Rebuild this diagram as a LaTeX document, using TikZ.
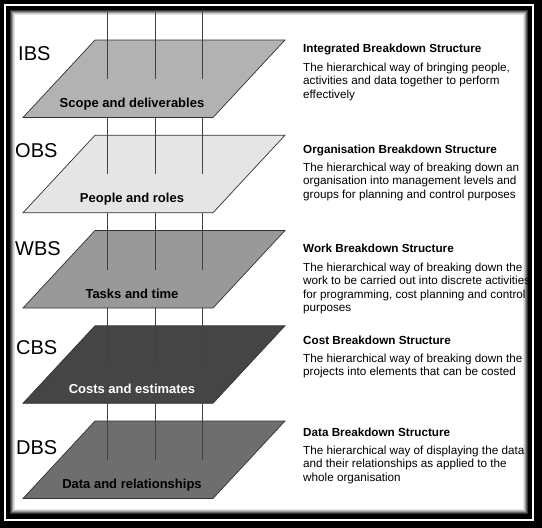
\documentclass[tikz,border=0pt]{standalone}
\usepackage{fontspec}
\setmainfont{Liberation Sans}
\definecolor{ibs}{gray}{0.70}
\definecolor{obs}{gray}{0.90}
\definecolor{wbs}{gray}{0.60}
\definecolor{cbs}{gray}{0.27}
\definecolor{dbs}{gray}{0.43}
\begin{document}
\begin{tikzpicture}[x=1pt,y=-1pt,
  plane/.style={draw=black!80, line width=0.7pt},
  pole/.style={draw=black!75, line width=0.8pt},
  abbr/.style={anchor=base west, inner sep=0pt, font=\fontsize{20}{24}\selectfont},
  planelabel/.style={anchor=base, inner sep=0pt, font=\fontsize{13}{15}\selectfont\bfseries},
  title/.style={anchor=base west, inner sep=0pt, font=\fontsize{11.7}{13.5}\selectfont\bfseries},
  desc/.style={anchor=base west, inner sep=0pt, font=\fontsize{11.7}{13.5}\selectfont}]
\useasboundingbox (0,0) rectangle (542,528);
% frame
\fill[black] (0,0) rectangle (542,528);
\draw[white, line width=1.3pt] (5,5) rectangle (533,520);
\foreach \k/\c in {0/0,1/20,2/40,3/60,4/78,5/90,6/100}
  {\fill[white!\c!black] (9+\k,9+\k) rectangle (529-\k,515-\k);}
% planes
\foreach \i/\col/\tc/\lab/\ab/\abx/\aby in {
  0/ibs/black/Scope and deliverables/IBS/18/60,
  1/obs/black/People and roles/OBS/15/157,
  2/wbs/black/Tasks and time/WBS/15/255,
  3/cbs/white/Costs and estimates/CBS/16/354,
  4/dbs/black/Data and relationships/DBS/16/454}{
  \pgfmathsetmacro\yt{40+95.25*\i}
  \pgfmathsetmacro\yb{\yt+77.5}
  \pgfmathsetmacro\ym{\yt+39}
  \pgfmathsetmacro\ys{\i==0 ? 12 : \yt-17.75}
  \filldraw[plane, fill=\col] (95,\yt) -- (285,\yt) -- (213,\yb) -- (23,\yb) -- cycle;
  \foreach \px [count=\j] in {107,155,202}{
    \coordinate (top\i\j) at (\px,\ys);
    \coordinate (mid\i\j) at (\px,\ym);
    \draw[pole] (top\i\j) -- (mid\i\j);
  }
  \node[planelabel, text=\tc] (lab\i) at (132,\yb-10) {\lab};
  \node[abbr] (abbr\i) at (\abx,\aby) {\ab};
}
% descriptions
\node[title] (t0) at (303,52) {Integrated Breakdown Structure};
\node[desc] (d0) at (303,71) {\parbox[t]{240pt}{\raggedright The hierarchical way of bringing people,\\activities and data together to perform\\effectively}};
\node[title] (t1) at (303,153) {Organisation Breakdown Structure};
\node[desc] (d1) at (303,171) {\parbox[t]{240pt}{\raggedright The hierarchical way of breaking down an\\organisation into management levels and\\groups for planning and control purposes}};
\node[title] (t2) at (303,252) {Work Breakdown Structure};
\node[desc] (d2) at (303,271) {\parbox[t]{240pt}{\raggedright The hierarchical way of breaking down the\\work to be carried out into discrete activities\\for programming, cost planning and control\\purposes}};
\node[title] (t3) at (303,344) {Cost Breakdown Structure};
\node[desc] (d3) at (303,362) {\parbox[t]{240pt}{\raggedright The hierarchical way of breaking down the\\projects into elements that can be costed}};
\node[title] (t4) at (303,436) {Data Breakdown Structure};
\node[desc] (d4) at (303,454) {\parbox[t]{240pt}{\raggedright The hierarchical way of displaying the data\\and their relationships as applied to the\\whole organisation}};
\end{tikzpicture}
\end{document}
